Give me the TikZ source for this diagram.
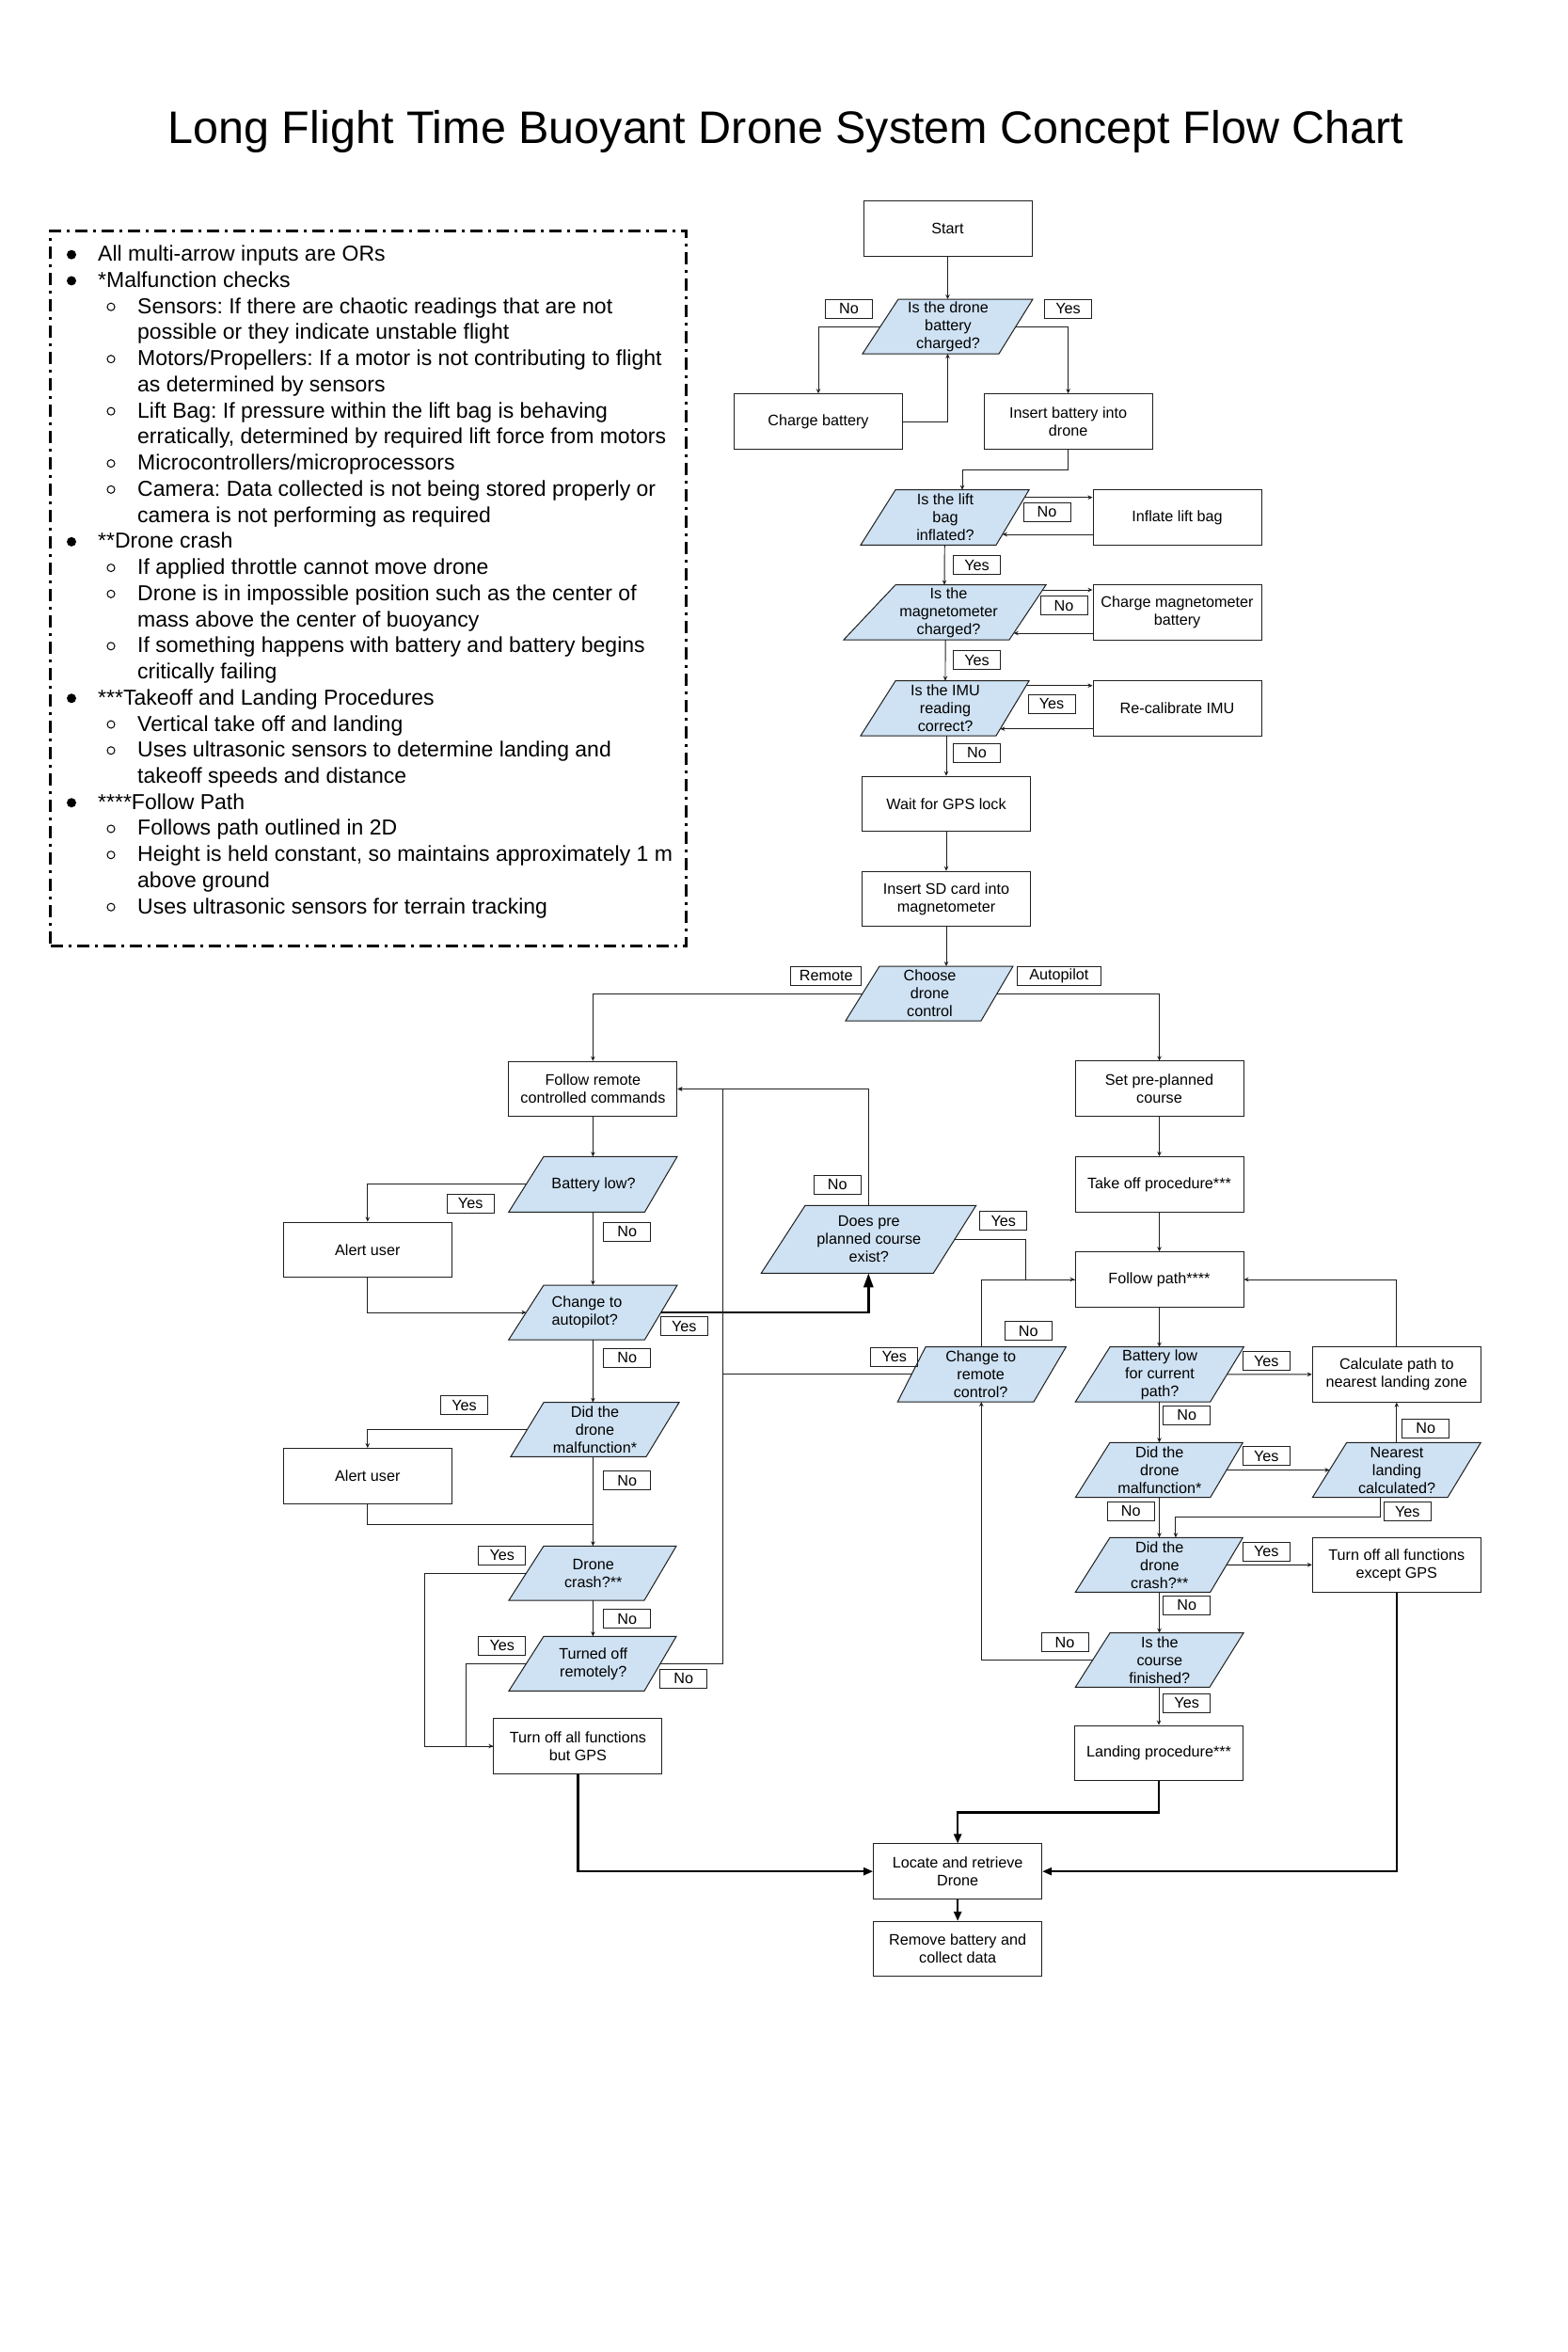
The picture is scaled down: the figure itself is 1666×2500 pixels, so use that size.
\documentclass[tikz,border=0pt]{standalone}
\usepackage{fontspec}
\setmainfont{Liberation Sans}
\usetikzlibrary{arrows.meta,calc}
\frenchspacing

\definecolor{qfill}{HTML}{CFE2F3}
\definecolor{ink}{HTML}{1F1F1F}

\newcommand\fcBox{\fontsize{16.2}{19}\selectfont}
\newcommand\fcNote{\fontsize{23}{27.7}\selectfont}
\newcommand\fcTitle{\fontsize{48.5}{58}\selectfont}

\tikzset{
  box/.style={draw=ink, line width=1pt, minimum width=179pt, minimum height=58.5pt,
    align=center, font=\fcBox, inner sep=0pt},
  lbl/.style={draw=ink, line width=1pt, minimum width=50pt, minimum height=20pt,
    inner sep=0pt, font=\fcBox},
  qtext/.style={align=center, font=\fcBox, inner sep=0pt},
  qshape/.style={fill=qfill, draw=ink, line width=1pt, line join=miter},
  flow/.style={draw=ink, line width=0.95pt, -{Stealth[length=5pt,width=4.5pt]}},
  link/.style={draw=ink, line width=0.95pt},
  heavy/.style={draw=black, line width=2.3pt, -{Triangle[length=10pt,width=8pt]}},
  heavier/.style={draw=black, line width=2.7pt, -{Triangle[length=15pt,width=10pt]}},
  note/.style={anchor=base west, inner sep=0pt, font=\fcNote},
}

% decision: name, x top-left, x top-right, x bottom-right, x bottom-left, y top, y bottom, text
\newcommand\question[8]{%
  \path[qshape] (#2,#6) coordinate (#1-tl) -- (#3,#6) coordinate (#1-tr)
     -- (#4,#7) coordinate (#1-br) -- (#5,#7) coordinate (#1-bl) -- cycle;
  \node[qtext] (#1) at ({(#2+#3+#4+#5)/4},{(#6+#7)/2}) {#8};
}

\begin{document}
\begin{tikzpicture}[x=1pt,y=-1pt]
\useasboundingbox (0,0) rectangle (1666,2500);
\fill[white] (0,0) rectangle (1666,2500);

% title
\node[anchor=base, inner sep=0pt, font=\fcTitle] (title) at (835.5,152)
  {Long Flight Time Buoyant Drone System Concept Flow Chart};

% notes panel
\node[draw=black, line width=3pt, dash pattern=on 13pt off 6pt on 3pt off 6pt,
      minimum width=675.5pt, minimum height=760pt, inner sep=0pt] (notes) at (391.25,625) {};
\foreach \lvl/\txt [count=\i] in {
  1/{All multi-arrow inputs are ORs},
  1/{*Malfunction checks},
  2/{Sensors: If there are chaotic readings that are not},
  3/{possible or they indicate unstable flight},
  2/{Motors/Propellers: If a motor is not contributing to flight},
  3/{as determined by sensors},
  2/{Lift Bag: If pressure within the lift bag is behaving},
  3/{erratically, determined by required lift force from motors},
  2/{Microcontrollers/microprocessors},
  2/{Camera: Data collected is not being stored properly or},
  3/{camera is not performing as required},
  1/{**Drone crash},
  2/{If applied throttle cannot move drone},
  2/{Drone is in impossible position such as the center of},
  3/{mass above the center of buoyancy},
  2/{If something happens with battery and battery begins},
  3/{critically failing},
  1/{***Takeoff and Landing Procedures},
  2/{Vertical take off and landing},
  2/{Uses ultrasonic sensors to determine landing and},
  3/{takeoff speeds and distance},
  1/{****Follow Path},
  2/{Follows path outlined in 2D},
  2/{Height is held constant, so maintains approximately 1 m},
  3/{above ground},
  2/{Uses ultrasonic sensors for terrain tracking}}{
  \pgfmathsetmacro\yy{277.7+(\i-1)*27.74}
  \ifnum\lvl=1
    \fill[black] (76,\yy-7) circle (5pt);
    \node[note] (note\i) at (104,\yy) {\txt};
  \else
    \ifnum\lvl=2 \draw[black, line width=1pt] (118,\yy-7) circle (4pt); \fi
    \node[note] (note\i) at (146,\yy) {\txt};
  \fi
}

% ---------- set-up sequence ----------
\node[box] (start) at (1007.5,243) {Start};
\question{d1}{955}{1098}{1062}{917}{318}{376}{Is the drone\\battery\\charged?}
\node[box] (charge) at (870,448) {Charge battery};
\node[box] (insertbat) at (1135.6,448) {Insert battery into\\drone};
\question{lift}{952}{1094}{1059}{915}{520.7}{579.3}{Is the lift\\bag\\inflated?}
\node[box] (inflate) at (1251.5,550) {Inflate lift bag};
\question{mag}{952}{1112}{1073}{897}{621.7}{680}{Is the\\magnetometer\\charged?}
\node[box] (chargemag) at (1251.5,650.9) {Charge magnetometer\\battery};
\question{imu}{952}{1094}{1059}{915}{723.7}{782}{Is the IMU\\reading\\correct?}
\node[box] (recal) at (1251.5,752.9) {Re-calibrate IMU};
\node[box] (gps) at (1006,854.5) {Wait for GPS lock};
\node[box] (sd) at (1006,955.5) {Insert SD card into\\magnetometer};
\question{choose}{935}{1077}{1043}{899}{1027}{1085}{Choose\\drone\\control}

% ---------- remote branch ----------
\node[box] (followremote) at (630.4,1157.5) {Follow remote\\controlled commands};
\question{battlow}{578}{720}{685.4}{540.8}{1229.3}{1288.3}{Battery low?}
\node[box] (alert1) at (390.8,1328.3) {Alert user};
\question{changeauto}{578}{720}{685.4}{540.8}{1366}{1424}{\hspace*{-14pt}\begin{tabular}{@{}l@{}}Change to\\autopilot?\end{tabular}}
\question{malfL}{578}{722}{687}{543}{1490.7}{1548.3}{Did the\\drone\\malfunction*}
\node[box] (alert2) at (390.8,1568.8) {Alert user};
\question{crashL}{578}{719}{685}{541}{1643.3}{1701}{Drone\\crash?**}
\question{turned}{578}{719}{685}{541}{1739.3}{1797.3}{Turned off\\remotely?}
\node[box] (turnoffL) at (614.4,1856) {Turn off all functions\\but GPS};

% ---------- middle ----------
\question{preplanned}{856}{1037.7}{992.3}{809.3}{1281.3}{1353.3}{Does pre\\planned course\\exist?}
\question{changeremote}{984}{1133.3}{1099}{954.3}{1431.7}{1490}{Change to\\remote\\control?}

% ---------- autopilot branch ----------
\node[box] (setcourse) at (1232.5,1157.2) {Set pre-planned\\course};
\node[box] (takeoff) at (1232.5,1258.8) {Take off procedure***};
\node[box] (followpath) at (1232.5,1360) {Follow path****};
\question{battR}{1180}{1322.3}{1286.7}{1143.3}{1431.7}{1490}{Battery low\\for current\\path?}
\node[box] (calcpath) at (1484.8,1460.85) {Calculate path to\\nearest landing zone};
\question{malfR}{1180}{1321.3}{1286.7}{1143.3}{1533.3}{1591.7}{Did the\\drone\\malfunction*}
\question{nearest}{1431.7}{1574.3}{1539}{1395.3}{1533.3}{1591.7}{Nearest\\landing\\calculated?}
\question{crashR}{1180}{1321.3}{1286.7}{1143.3}{1634.3}{1692.3}{Did the\\drone\\crash?**}
\node[box] (turnoffR) at (1484.8,1663.3) {Turn off all functions\\except GPS};
\question{course}{1180}{1322}{1286}{1143.3}{1735.7}{1793.3}{Is the\\course\\finished?}
\node[box] (landing) at (1232,1863.3) {Landing procedure***};

% ---------- recovery ----------
\node[box] (locate) at (1018.15,1989.15) {Locate and retrieve\\Drone};
\node[box] (remove) at (1018.15,2071.65) {Remove battery and\\collect data};

% ---------- answer tags ----------
\node[lbl] (t1) at (902.5,328) {No};
\node[lbl] (t2) at (1135.5,328) {Yes};
\node[lbl] (t3) at (1113,544) {No};
\node[lbl] (t4) at (1038.5,600.5) {Yes};
\node[lbl] (t5) at (1131,643.5) {No};
\node[lbl] (t6) at (1038.5,701.5) {Yes};
\node[lbl] (t7) at (1118,748) {Yes};
\node[lbl] (t8) at (1038.5,800) {No};
\node[lbl, minimum width=75pt] (t9) at (878.2,1037) {Remote};
\node[lbl, minimum width=89.7pt] (t10) at (1125.85,1037) {Autopilot};
\node[lbl] (t11) at (500.2,1279.3) {Yes};
\node[lbl] (t12) at (666.75,1309.3) {No};
\node[lbl] (t13) at (727.35,1409.7) {Yes};
\node[lbl] (t14) at (666.75,1443.3) {No};
\node[lbl] (t15) at (493.5,1493.5) {Yes};
\node[lbl] (t16) at (666.75,1573.7) {No};
\node[lbl] (t17) at (533.8,1653.3) {Yes};
\node[lbl] (t18) at (666.75,1720.5) {No};
\node[lbl] (t19) at (533.8,1749.3) {Yes};
\node[lbl] (t20) at (726.75,1784.3) {No};
\node[lbl] (t21) at (890.3,1259.3) {No};
\node[lbl] (t22) at (1066.8,1297.7) {Yes};
\node[lbl] (t23) at (1093.3,1414.7) {No};
\node[lbl] (t24) at (950.8,1442) {Yes};
\node[lbl] (t25) at (1346.3,1446.7) {Yes};
\node[lbl] (t26) at (1261.65,1504.3) {No};
\node[lbl] (t27) at (1346.3,1547.7) {Yes};
\node[lbl] (t28) at (1515.7,1518) {No};
\node[lbl] (t29) at (1202.3,1606.3) {No};
\node[lbl] (t30) at (1496.3,1606.7) {Yes};
\node[lbl] (t31) at (1346.3,1649) {Yes};
\node[lbl] (t32) at (1261.65,1706.3) {No};
\node[lbl] (t33) at (1132,1745.7) {No};
\node[lbl] (t34) at (1261.65,1810) {Yes};

% ---------- connectors: set-up ----------
\draw[flow] (start.south) -- (start.south |- d1-tl);
\draw[flow] ($(d1-tl)!0.5!(d1-bl)$) -| (charge.north);
\draw[flow] (charge.east) -| (start.south |- d1-bl);
\draw[flow] ($(d1-tr)!0.5!(d1-br)$) -| (insertbat.north);
\draw[flow] (insertbat.south) -- ++(0,22) -| ($(lift-tl)!0.5!(lift-tr)$);

\coordinate (liftout) at ($(lift-tr)!0.137!(lift-br)$);
\coordinate (liftin) at ($(lift-tr)!0.807!(lift-br)$);
\draw[flow] (liftout) -- (liftout -| inflate.west);
\draw[flow] (liftin -| inflate.west) -- (liftin);
\draw[flow] ($(lift-bl)!0.62!(lift-br)$) -- ($(mag-tl)!0.325!(mag-tr)$);

\coordinate (magout) at ($(mag-tr)!0.091!(mag-br)$);
\coordinate (magin) at ($(mag-tr)!0.88!(mag-br)$);
\draw[flow] (magout) -- (magout -| chargemag.west);
\draw[flow] (magin -| chargemag.west) -- (magin);
\draw[flow] ($(mag-bl)!0.614!(mag-br)$) -- ($(imu-tl)!0.373!(imu-tr)$);

\coordinate (imuout) at ($(imu-tr)!0.086!(imu-br)$);
\coordinate (imuin) at ($(imu-tr)!0.875!(imu-br)$);
\draw[flow] (imuout) -- (imuout -| recal.west);
\draw[flow] (imuin -| recal.west) -- (imuin);
\draw[flow] (gps.north |- imu-bl) -- (gps.north);
\draw[flow] (gps.south) -- (sd.north);
\draw[flow] (sd.south) -- (sd.south |- choose-tl);
\draw[flow] ($(choose-tl)!0.5!(choose-bl)$) -| (followremote.north);
\draw[flow] ($(choose-tr)!0.5!(choose-br)$) -| (setcourse.north);

% ---------- connectors: remote branch ----------
\coordinate (rcol) at ($(followremote.east)+(48,0)$);
\draw[flow] (followremote.south) -- (followremote.south |- battlow-tl);
\draw[flow] ($(battlow-tl)!0.5!(battlow-bl)$) -| (alert1.north);
\draw[flow] (followremote.south |- battlow-bl) -- (followremote.south |- changeauto-tl);
\draw[flow] (alert1.south) |- ($(changeauto-tl)!0.5!(changeauto-bl)$);
\draw[heavier] ($(changeauto-tr)!0.5!(changeauto-br)$) -| ($(preplanned-bl)!0.623!(preplanned-br)$);
\draw[flow] (followremote.south |- changeauto-bl) -- (followremote.south |- malfL-tl);
\draw[flow] ($(malfL-tl)!0.5!(malfL-bl)$) -| (alert2.north);
\draw[flow] (followremote.south |- malfL-bl) -- (followremote.south |- crashL-tl);
\draw[link] (alert2.south) -- ++(0,22) coordinate (a2j) -- (a2j -| followremote.south);
\draw[flow] ($(crashL-tl)!0.5!(crashL-bl)$) -- ++(-108,0) |- (turnoffL.west);
\draw[flow] (followremote.south |- crashL-bl) -- (followremote.south |- turned-tl);
\draw[link] ($(turned-tl)!0.5!(turned-bl)$) -- ++(-64,0) |- (turnoffL.west);
\draw[flow] ($(turned-tr)!0.5!(turned-br)$) -| (rcol) -- (followremote.east);

% ---------- connectors: middle ----------
\draw[flow] ($(preplanned-tl)!0.37!(preplanned-tr)$) |- (followremote.east);
\draw[flow] ($(preplanned-tr)!0.5!(preplanned-br)$) -- ++(75.7,0) |- (followpath.west);
\draw[link] ($(changeremote-tl)!0.397!(changeremote-tr)$) |- (followpath.west);
\coordinate (crl) at ($(changeremote-tl)!0.5!(changeremote-bl)$);
\draw[link] (crl) -- (crl -| rcol);

% ---------- connectors: autopilot branch ----------
\draw[flow] (setcourse.south) -- (takeoff.north);
\draw[flow] (takeoff.south) -- (followpath.north);
\draw[flow] (followpath.south) -- (followpath.south |- battR-tl);
\draw[flow] ($(battR-tr)!0.5!(battR-br)$) -- (calcpath.west);
\draw[flow] (calcpath.north) |- (followpath.east);
\draw[flow] (followpath.south |- battR-bl) -- (followpath.south |- malfR-tl);
\draw[flow] ($(malfR-tr)!0.5!(malfR-br)$) -- ($(nearest-tl)!0.5!(nearest-bl)$);
\draw[flow] (calcpath.south |- nearest-tl) -- (calcpath.south);
\draw[flow] ($(nearest-bl)!0.5!(nearest-br)$) -- ++(0,20.6) -| ($(crashR-tl)!0.495!(crashR-tr)$);
\draw[flow] (followpath.south |- malfR-bl) -- (followpath.south |- crashR-tl);
\draw[flow] ($(crashR-tr)!0.5!(crashR-br)$) -- (turnoffR.west);
\draw[flow] (followpath.south |- crashR-bl) -- (followpath.south |- course-tl);
\draw[flow] ($(course-tl)!0.5!(course-bl)$) -| ($(changeremote-bl)!0.615!(changeremote-br)$);
\draw[flow] (landing.north |- course-bl) -- (landing.north);

% ---------- connectors: recovery ----------
\draw[heavy] (turnoffL.south) |- (locate.west);
\draw[heavy] (landing.south) -- ++(0,33.4) -| (locate.north);
\draw[heavy] (turnoffR.south) |- (locate.east);
\draw[heavy] (locate.south) -- (remove.north);
\end{tikzpicture}
\end{document}
